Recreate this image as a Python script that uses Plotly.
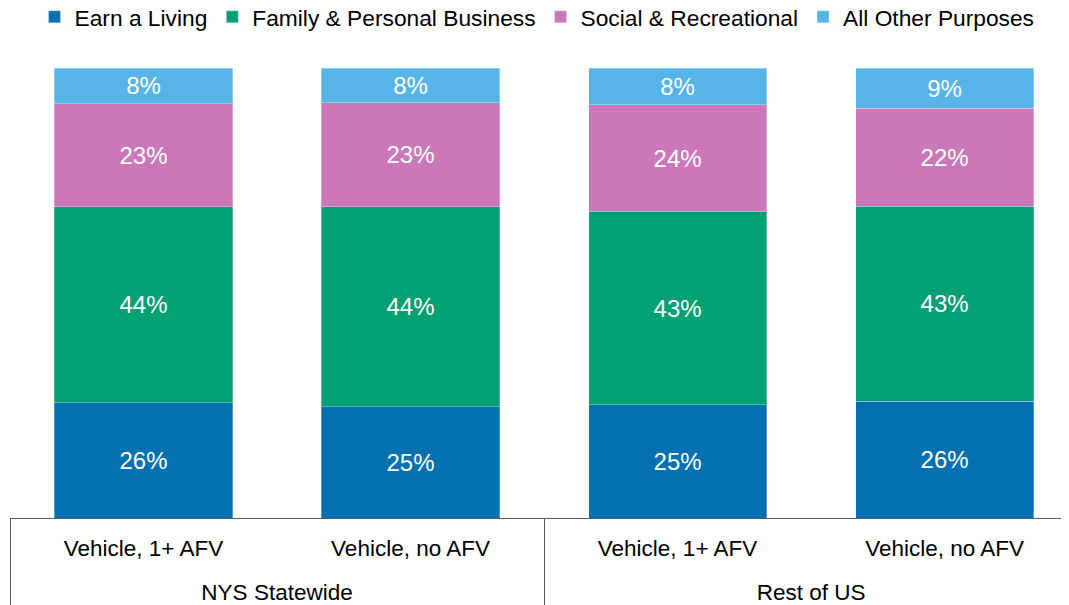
import plotly.graph_objects as go

groups = ["NYS Statewide", "NYS Statewide", "Rest of US", "Rest of US"]
vehicles = ["Vehicle, 1+ AFV", "Vehicle, no AFV", "Vehicle, 1+ AFV", "Vehicle, no AFV"]

earn_living = [25.6, 24.7, 25.2, 26.0]
family_personal = [43.6, 44.45, 42.9, 43.3]
social_recreational = [22.9, 23.2, 23.75, 21.85]
all_other = [7.9, 7.65, 8.15, 8.85]

series_names = ["Earn a Living", "Family & Personal Business",
                "Social & Recreational", "All Other Purposes"]
series_values = [earn_living, family_personal, social_recreational, all_other]
colors = ["#0171B1", "#02A072", "#CA78B9", "#56B4E9"]

FONT = "Liberation Sans, Arial, sans-serif"

# first-level labels get a small empty trailing line so the group row sits lower
vehicle_labels = [v + "<br><span style='font-size:12px'>\u00a0</span>" for v in vehicles]

fig = go.Figure()
for name, vals, col in zip(series_names, series_values, colors):
    fig.add_trace(go.Bar(
        x=[groups, vehicle_labels], y=vals, name=name,
        marker=dict(color=col, line=dict(color="rgba(255,255,255,0.6)", width=0.5)),
        texttemplate="%{y:.0f}%", textposition="inside",
        insidetextanchor="middle", textangle=0, constraintext="none",
        textfont=dict(family=FONT, size=24, color="white"),
        hoverinfo="skip",
    ))

# page body has an 8px margin, so the figure is laid out 8px smaller
fig.update_layout(
    barmode="stack", bargap=0.333,
    width=1061, height=597,
    margin=dict(l=2, r=0, t=60, b=87, autoexpand=False),
    paper_bgcolor="white", plot_bgcolor="white",
    font=dict(family=FONT, color="#000000"),
    legend=dict(orientation="h", x=0.4986, xanchor="center", xref="container",
                y=0.985, yanchor="middle", yref="container",
                font=dict(family=FONT, size=22.75, color="#000000"),
                traceorder="normal", itemclick=False),
    xaxis=dict(type="multicategory", range=[-0.5, 3.466], showline=True,
               linecolor="#595959", linewidth=1, showdividers=True,
               dividercolor="#595959", dividerwidth=1, ticks="",
               ticklabelstandoff=10, automargin=False,
               tickfont=dict(family=FONT, size=22.5, color="#000000"),
               showgrid=False, zeroline=False),
    yaxis=dict(range=[0, 100.05], visible=False, showgrid=False, zeroline=False,
               automargin=False),
)

fig.write_html("out.html")
